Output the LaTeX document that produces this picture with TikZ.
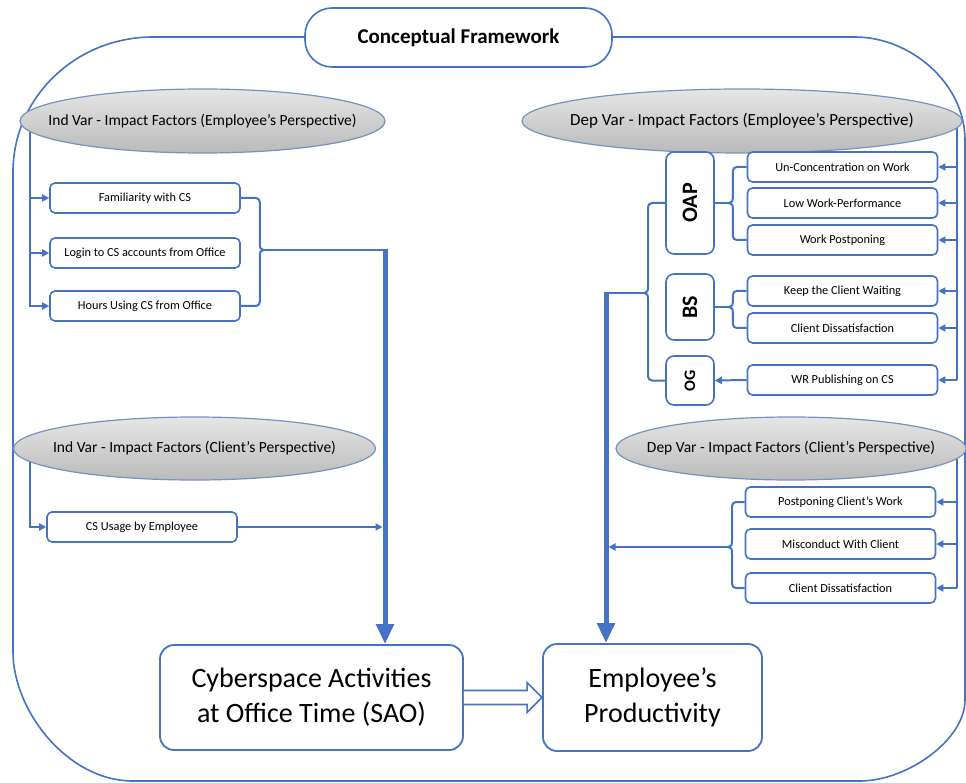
\documentclass[tikz,border=0pt]{standalone}
\usepackage{fontspec}
\setmainfont{Carlito}
\usetikzlibrary{arrows.meta,backgrounds,calc,shapes.geometric}
\definecolor{cblue}{RGB}{68,114,196}
\definecolor{gborder}{RGB}{120,145,190}
\definecolor{gtop}{RGB}{230,230,230}
\definecolor{gbot}{RGB}{186,186,186}
\newcommand{\zw}[1]{\makebox[0pt]{#1}}
\begin{document}
\begin{tikzpicture}[x=1pt,y=-1pt,
 line/.style={draw=cblue, line width=2pt},
 arr/.style={line, -{Triangle[length=7pt,width=7pt]}},
 thickarr/.style={draw=cblue, line width=5pt, -{Triangle[length=20pt,width=17pt]}},
 sbox/.style={draw=cblue, line width=1.6pt, rounded corners=5pt, fill=white, minimum width=190pt, minimum height=30pt, inner sep=0pt, font=\fontsize{12.3}{14}\selectfont},
 gell/.style={ellipse, draw=gborder, line width=1.2pt, top color=gtop, bottom color=gbot, inner sep=0pt, font=\fontsize{15.5}{18}\selectfont},
 abox/.style={draw=cblue, line width=1.6pt, rounded corners=8pt, fill=white, minimum width=48pt, inner sep=0pt, font=\bfseries},
 bigbox/.style={draw=cblue, line width=1.8pt, rounded corners=14pt, fill=white, inner sep=0pt, align=center, font=\fontsize{28}{35}\selectfont}
]
\useasboundingbox (0,0) rectangle (966,783);

% title and ellipses
\node[draw=cblue, line width=1.6pt, rounded corners=27pt, fill=white, minimum width=307pt, minimum height=59pt, inner sep=0pt, font=\fontsize{21}{24}\selectfont\bfseries] (title) at (458.5,37.5) {Conceptual Framework};
\node[gell, minimum width=365pt, minimum height=64pt] (ie) at (202.5,121) {\zw{Ind Var - Impact Factors (Employee’s Perspective)}};
\node[gell, minimum width=440pt, minimum height=64pt, font=\fontsize{17}{20}\selectfont] (de) at (742,121) {\zw{Dep Var - Impact Factors (Employee’s Perspective)}};
\node[gell, minimum width=362pt, minimum height=63pt] (ic) at (194.5,448.5) {\zw{Ind Var - Impact Factors (Client’s Perspective)}};
\node[gell, minimum width=350pt, minimum height=63pt] (dc) at (791,448.5) {\zw{Dep Var - Impact Factors (Client’s Perspective)}};

% left boxes
\node[sbox] (f1) at (145,198) {Familiarity with CS};
\node[sbox] (f2) at (145,253) {Login to CS accounts from Office};
\node[sbox] (f3) at (145,306) {Hours Using CS from Office};
\node[sbox] (cs) at (142,527) {CS Usage by Employee};

% right boxes
\node[sbox] (u1) at (842.5,167) {Un-Concentration on Work};
\node[sbox] (u2) at (842.5,203) {Low Work-Performance};
\node[sbox] (u3) at (842.5,240) {Work Postponing};
\node[sbox] (k1) at (842.5,291) {Keep the Client Waiting};
\node[sbox] (k2) at (842.5,328) {Client Dissatisfaction};
\node[sbox] (wr) at (842.5,380) {WR Publishing on CS};
\node[sbox] (p1) at (840.5,502) {Postponing Client’s Work};
\node[sbox] (p2) at (840.5,544) {Misconduct With Client};
\node[sbox] (p3) at (840.5,588) {Client Dissatisfaction};

\node[abox, minimum height=102pt] (oap) at (690,203) {\rotatebox{90}{\fontsize{22}{22}\selectfont OAP}};
\node[abox, minimum height=66pt] (bs) at (690,307) {\rotatebox{90}{\fontsize{22}{22}\selectfont BS}};
\node[abox, minimum height=49pt] (og) at (690,380.5) {\rotatebox{90}{\fontsize{16}{16}\selectfont OG}};

% main boxes
\node[bigbox, minimum width=303pt, minimum height=105pt] (sao) at (311.5,697.5) {Cyberspace Activities\\at Office Time (SAO)};
\node[bigbox, minimum width=219pt, minimum height=107pt] (prod) at (652.5,697.5) {Employee’s\\Productivity};

% helper coordinates
\coordinate (bL) at (30,0);
\coordinate (tL) at (385,0);
\coordinate (bR) at (957,0);
\coordinate (tR) at (606,0);
\coordinate (lb) at ($(f2.east)+(23,-3)$);
\coordinate (ob) at ($(oap.east)+(14,0)$);
\coordinate (bb) at ($(bs.east)+(14,0)$);
\coordinate (gb) at (644,293);
\coordinate (cb) at (728,547);

\begin{scope}[on background layer]
% outer frame
\draw[cblue, line width=1.6pt]
  (153,37) .. controls (75.7,37) and (13,97.5) .. (13,172)
  -- (13,652) .. controls (13,710) and (67,781) .. (133,781)
  -- (860,781) .. controls (907,781) and (965,740) .. (965,700)
  -- (965,140) .. controls (965,83) and (910,37) .. (855,37)
  -- cycle;
% left employee factors
\draw[arr] (ie.center -| bL) |- (f3.west);
\draw[arr] (bL |- f1.west) -- (f1.west);
\draw[arr] (bL |- f2.west) -- (f2.west);
\draw[line, rounded corners=4pt] (f1.east) -- ($(f1.east -| lb)+(-4,0)$) -- ($(lb)+(-4,-7)$);
\draw[line] ($(lb)+(-4,-7.5)$) .. controls ($(lb)+(-4,-1.5)$) .. (lb) .. controls ($(lb)+(-4,1.5)$) .. ($(lb)+(-4,7.5)$);
\draw[line, rounded corners=4pt] ($(lb)+(-4,7)$) -- ($(f3.east -| lb)+(-4,0)$) -- (f3.east);
\draw[line] (lb) -- (tL |- lb);
\draw[thickarr] ($(tL |- lb)+(0,-1)$) -- (tL |- sao.north);
% client ind
\draw[arr] (ic.center -| bL) |- (cs.west);
\draw[arr, shorten >=2.5pt] (cs.east) -- (tL |- cs.east);
% right employee factors
\draw[line] (de.center -| bR) -- (bR |- wr.east);
\foreach \n in {u1,u2,u3,k1,k2,wr} \draw[arr] (bR |- \n.east) -- (\n.east);
\draw[line, rounded corners=4pt] (u1.west) -- ($(u1.west -| ob)+(4,0)$) -- ($(ob)+(4,-7)$);
\draw[line] ($(ob)+(4,-7.5)$) .. controls ($(ob)+(4,-1.5)$) .. (ob) .. controls ($(ob)+(4,1.5)$) .. ($(ob)+(4,7.5)$);
\draw[line, rounded corners=4pt] ($(ob)+(4,7)$) -- ($(u3.west -| ob)+(4,0)$) -- (u3.west);
\draw[line] (oap.east) -- (ob);
\draw[line, rounded corners=4pt] (k1.west) -- ($(k1.west -| bb)+(4,0)$) -- ($(bb)+(4,-7)$);
\draw[line] ($(bb)+(4,-7.5)$) .. controls ($(bb)+(4,-1.5)$) .. (bb) .. controls ($(bb)+(4,1.5)$) .. ($(bb)+(4,7.5)$);
\draw[line, rounded corners=4pt] ($(bb)+(4,7)$) -- ($(k2.west -| bb)+(4,0)$) -- (k2.west);
\draw[line] (bs.east) -- (bb);
\draw[arr] (wr.west) -- (og.east);
\draw[line, rounded corners=4pt] (oap.west) -- ($(oap.west -| gb)+(4,0)$) -- ($(gb)+(4,-7)$);
\draw[line] ($(gb)+(4,-7.5)$) .. controls ($(gb)+(4,-1.5)$) .. (gb) .. controls ($(gb)+(4,1.5)$) .. ($(gb)+(4,7.5)$);
\draw[line, rounded corners=4pt] ($(gb)+(4,7)$) -- ($(og.west -| gb)+(4,0)$) -- (og.west);
\draw[line] (gb) -- (tR |- gb);
\draw[thickarr] ($(tR |- gb)+(0,-1)$) -- (tR |- prod.north);
% client dep
\draw[line] (dc.center -| bR) -- (bR |- p3.east);
\foreach \n in {p1,p2,p3} \draw[arr] (bR |- \n.east) -- (\n.east);
\draw[line, rounded corners=4pt] (p1.west) -- ($(p1.west -| cb)+(4,0)$) -- ($(cb)+(4,-7)$);
\draw[line] ($(cb)+(4,-7.5)$) .. controls ($(cb)+(4,-1.5)$) .. (cb) .. controls ($(cb)+(4,1.5)$) .. ($(cb)+(4,7.5)$);
\draw[line, rounded corners=4pt] ($(cb)+(4,7)$) -- ($(p3.west -| cb)+(4,0)$) -- (p3.west);
\draw[arr, shorten >=2.5pt] (cb) -- (tR |- cb);
\end{scope}

% double arrow SAO -> Productivity
\draw[cblue, line width=1.6pt, fill=white, line join=miter]
  ($(sao.east)+(0,-7)$) -- ($(prod.west)+(-15,-7)$) -- ($(prod.west)+(-15,-15)$) -- (prod.west)
  -- ($(prod.west)+(-15,15)$) -- ($(prod.west)+(-15,7)$) -- ($(sao.east)+(0,7)$);
\end{tikzpicture}
\end{document}
